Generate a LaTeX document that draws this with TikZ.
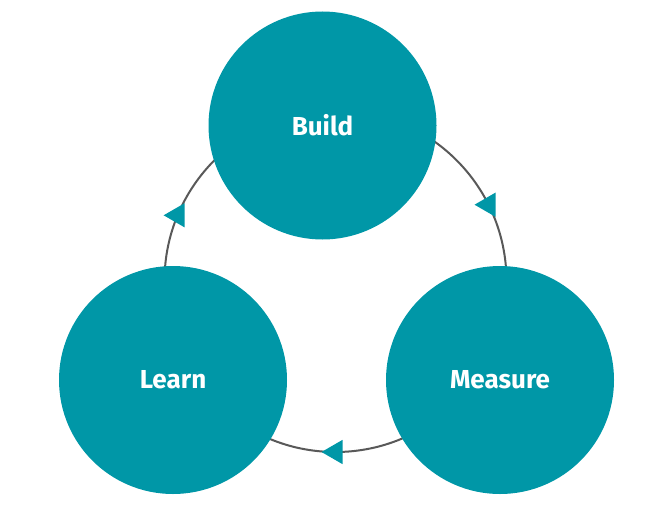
\documentclass[tikz,border=0pt]{standalone}
\usepackage{fontspec}
\setmainfont{Fira Sans}
\usetikzlibrary{shapes.geometric}
\definecolor{stagecol}{HTML}{0097A7}
\definecolor{loopcol}{HTML}{595959}

\begin{document}
\begin{tikzpicture}[x=1pt,y=-1pt,
    stage/.style={circle, fill=stagecol, minimum size=228pt, inner sep=0pt, text=white, font=\bfseries\fontsize{26}{30}\selectfont},
    marker/.style={regular polygon, regular polygon sides=3, minimum size=28pt, inner sep=0pt, fill=stagecol, shape border rotate=90}]
    \useasboundingbox (0,0) rectangle (663,527);

    % the loop behind the stages
    \coordinate (hub) at (335.5,281);
    \draw[line width=2pt, loopcol] (hub) circle (171pt);

    \node[marker] (tomeasure) at ([shift={(26.5:171pt)}]hub) {};
    \node[marker] (tolearn) at ([shift={(270:171pt)}]hub) {};
    \node[marker] (tobuild) at ([shift={(157.4:171pt)}]hub) {};

    % stages
    \node[stage] (build) at (322.5,125.5) {Build};
    \node[stage] (measure) at (500,380) {Measure};
    \node[stage] (learn) at (173,380) {Learn};
\end{tikzpicture}
\end{document}
